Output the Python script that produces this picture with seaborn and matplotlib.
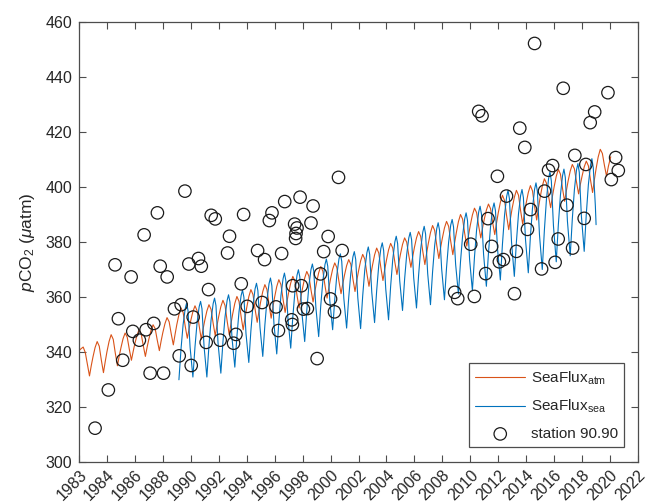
import matplotlib
matplotlib.use("Agg")
import matplotlib.pyplot as plt
import matplotlib.transforms as mtransforms
import pandas as pd
import seaborn as sns

# ---------------- data ----------------
# SeaFlux atm: one row per year, values at year + atm_offsets
atm_years = list(range(1982, 2020))
atm_offsets = [0.0, 0.15, 0.3, 0.45, 0.6, 0.75, 0.88]
atm_values = [
    [340.5, 341.2, 341.8, 339.8, 335.5, 331.3, 335.1],
    [338.2, 341.6, 343.8, 342.1, 337.0, 332.5, 336.6],
    [340.1, 343.8, 346.3, 344.6, 339.5, 335.0, 338.6],
    [341.5, 344.8, 346.9, 345.4, 341.0, 337.0, 340.3],
    [343.1, 346.1, 348.1, 346.6, 342.3, 338.4, 341.9],
    [344.7, 347.8, 349.9, 348.5, 344.3, 340.5, 344.1],
    [347.1, 350.3, 352.5, 351.0, 346.6, 342.6, 346.6],
    [350.0, 353.6, 356.0, 354.4, 349.4, 345.0, 348.5],
    [351.5, 354.7, 356.8, 355.0, 349.5, 344.6, 348.4],
    [351.5, 354.9, 357.2, 355.5, 350.4, 345.9, 349.8],
    [353.0, 356.5, 358.8, 356.9, 351.3, 346.3, 350.5],
    [353.9, 357.7, 360.2, 358.4, 352.9, 348.1, 352.5],
    [356.1, 360.1, 362.7, 360.9, 355.6, 350.8, 354.9],
    [358.3, 362.0, 364.5, 362.7, 357.2, 352.3, 356.5],
    [360.0, 363.8, 366.3, 364.5, 359.2, 354.4, 358.3],
    [361.6, 365.1, 367.5, 365.8, 360.6, 356.0, 360.0],
    [363.3, 366.9, 369.3, 367.6, 362.6, 358.2, 362.1],
    [365.3, 368.8, 371.1, 369.4, 364.2, 359.6, 363.4],
    [366.6, 370.1, 372.4, 370.7, 365.7, 361.2, 364.9],
    [368.0, 371.4, 373.6, 371.9, 366.6, 362.0, 366.1],
    [369.4, 373.1, 375.5, 373.8, 368.5, 363.9, 368.1],
    [371.5, 375.3, 377.8, 376.0, 370.7, 366.0, 370.1],
    [373.4, 377.1, 379.5, 377.8, 372.7, 368.2, 372.2],
    [375.5, 379.1, 381.5, 379.9, 375.1, 370.8, 374.7],
    [378.0, 381.5, 383.8, 382.0, 376.6, 371.8, 376.1],
    [379.6, 383.4, 386.0, 384.2, 378.8, 374.0, 378.1],
    [381.4, 385.1, 387.5, 385.7, 380.2, 375.4, 379.8],
    [383.4, 387.4, 390.0, 388.3, 383.1, 378.5, 382.6],
    [386.1, 389.8, 392.3, 390.7, 385.8, 381.5, 385.2],
    [388.3, 391.6, 393.8, 392.1, 387.1, 382.7, 387.0],
    [390.6, 394.4, 397.0, 395.1, 389.5, 384.5, 388.8],
    [392.4, 396.2, 398.8, 397.0, 391.4, 386.5, 390.7],
    [394.2, 398.0, 400.5, 398.6, 393.0, 388.0, 392.5],
    [396.3, 400.3, 403.0, 401.4, 396.7, 392.5, 396.7],
    [400.1, 403.9, 406.4, 404.7, 399.4, 394.8, 398.8],
    [402.2, 405.8, 408.2, 406.6, 401.8, 397.5, 401.1],
    [404.0, 407.3, 409.4, 407.7, 402.6, 398.0, 402.7],
    [406.6, 410.9, 413.7, 412.2, 407.8, 403.9, 407.5],
]
atm_end_time = [2020.05]
atm_end_value = [411.0]

# SeaFlux sea: one row per year, values at year + sea_offsets
sea_years = list(range(1989, 2019))
sea_offsets = [0.15, 0.3, 0.45, 0.6, 0.7, 0.8, 0.95]
sea_values = [
    [329.9, 341.1, 350.0, 355.8, 357.8, 355.1, 341.7],
    [330.9, 341.9, 350.7, 356.5, 358.4, 355.7, 341.9],
    [330.9, 342.4, 351.6, 357.6, 359.6, 356.9, 343.2],
    [332.3, 343.7, 352.8, 358.8, 360.8, 358.2, 345.0],
    [334.5, 345.7, 354.7, 360.5, 362.5, 359.9, 346.7],
    [336.2, 347.7, 356.9, 363.0, 365.0, 362.3, 349.0],
    [338.4, 349.8, 358.9, 364.9, 366.9, 364.1, 350.3],
    [339.3, 351.1, 360.5, 366.6, 368.7, 366.0, 352.3],
    [341.4, 352.8, 361.9, 367.9, 369.9, 367.3, 354.2],
    [343.8, 355.1, 364.1, 370.0, 372.0, 369.4, 356.2],
    [345.6, 356.9, 365.9, 371.8, 373.8, 371.2, 358.4],
    [348.1, 359.1, 368.0, 373.8, 375.7, 373.0, 359.5],
    [348.7, 359.8, 368.7, 374.6, 376.5, 373.7, 359.7],
    [348.5, 360.4, 369.9, 376.1, 378.2, 375.5, 361.7],
    [350.7, 362.3, 371.6, 377.7, 379.7, 376.9, 362.9],
    [351.7, 363.9, 373.6, 380.0, 382.1, 379.4, 365.9],
    [355.1, 366.5, 375.5, 381.5, 383.5, 380.8, 367.0],
    [356.0, 367.9, 377.4, 383.6, 385.7, 382.9, 368.6],
    [357.2, 369.1, 378.7, 384.9, 387.0, 384.2, 370.2],
    [359.0, 370.7, 380.0, 386.2, 388.2, 385.5, 371.9],
    [361.1, 372.9, 382.3, 388.5, 390.6, 387.8, 373.6],
    [362.3, 374.6, 384.4, 390.9, 393.0, 390.1, 375.5],
    [363.9, 376.0, 385.7, 392.1, 394.2, 391.4, 377.4],
    [366.2, 379.2, 389.7, 396.5, 398.8, 395.7, 380.0],
    [367.5, 380.1, 390.3, 396.9, 399.1, 396.1, 380.9],
    [368.8, 381.9, 392.3, 399.2, 401.5, 398.4, 382.6],
    [370.0, 384.2, 395.6, 403.0, 405.5, 402.2, 385.9],
    [372.8, 386.3, 397.1, 404.1, 406.5, 403.4, 387.6],
    [375.0, 388.4, 399.1, 406.2, 408.5, 405.3, 389.4],
    [376.6, 390.1, 400.9, 407.9, 410.3, 407.0, 393.0],
]
sea_end_time = [2019.0]
sea_end_value = [386.3]

# station 90.90 discrete samples
station_time = [
    1983.15, 1984.10, 1984.58, 1984.82, 1985.13, 1985.73, 1985.85, 1986.32, 1986.66, 1986.80,
    1987.09, 1987.35, 1987.61, 1987.81, 1988.05, 1988.31, 1988.83, 1989.31, 1989.17, 1989.58,
    1989.86, 1990.03, 1990.17, 1990.55, 1990.75, 1991.27, 1991.10, 1991.46, 1991.75, 1992.10,
    1993.78, 1995.81, 1995.62, 1996.72, 1997.82, 1998.75, 2000.57, 1992.77, 1992.63, 1994.78,
    1995.28, 1996.50, 1997.43, 1997.60, 1997.53, 1997.50, 1998.60, 1999.83, 1999.51, 2000.83,
    1993.61, 1994.04, 1995.10, 1996.10, 1997.29, 1997.91, 1999.28, 1998.06, 1998.34, 2000.00,
    2000.28, 1993.23, 1993.06, 1996.27, 1997.22, 1997.27, 1999.04, 2008.88, 2009.10, 2010.29,
    2010.03, 2011.27, 2011.53, 2011.10, 2012.08, 2012.37, 2014.60, 2016.65, 2019.85, 2018.90,
    2018.58, 2013.54, 2013.90, 2011.94, 2017.48, 2020.40, 2020.59, 2020.09, 2018.27, 2015.89,
    2015.60, 2012.59, 2015.31, 2014.31, 2016.91, 2014.09, 2018.15, 2016.29, 2017.32, 2013.30,
    2016.07, 2015.10, 2013.16, 2010.60, 2010.84,
]
station_value = [
    312.3, 326.2, 371.7, 352.1, 337.0, 367.3, 347.5, 344.3, 382.6, 348.1,
    332.3, 350.4, 390.6, 371.2, 332.3, 367.3, 355.7, 357.2, 338.6, 398.5,
    372.0, 335.1, 352.7, 374.0, 371.2, 362.7, 343.5, 389.7, 388.4, 344.3,
    390.0, 390.6, 387.8, 394.7, 396.3, 393.1, 403.5, 382.1, 376.0, 376.9,
    373.6, 375.8, 386.5, 385.1, 383.1, 381.3, 386.9, 382.0, 376.5, 376.9,
    364.8, 356.6, 358.0, 356.4, 364.1, 364.1, 368.4, 355.6, 355.8, 359.3,
    354.6, 346.4, 343.2, 347.8, 351.7, 350.0, 337.6, 361.7, 359.4, 360.2,
    379.2, 388.5, 378.4, 368.5, 372.8, 373.6, 452.2, 435.9, 434.3, 427.3,
    423.4, 421.4, 414.4, 403.9, 411.5, 410.7, 406.0, 402.7, 408.2, 407.8,
    406.1, 396.7, 398.5, 391.8, 393.4, 384.6, 388.6, 381.1, 377.8, 376.6,
    372.6, 370.2, 361.2, 427.5, 425.9,
]

xtick_pos = list(range(1982, 2023, 2))
xtick_labels = ["1983", "1984", "1986", "1988", "1990", "1992", "1994", "1996", "1998",
                "2000", "2002", "2004", "2006", "2008", "2010", "2012", "2014", "2016",
                "2018", "2020", "2022"]
ytick_pos = list(range(300, 461, 20))

# ---------------- build tables ----------------
def series_frame(years, offsets, rows, end_t, end_v):
    t, v = [], []
    for y, vals in zip(years, rows):
        for o, val in zip(offsets, vals):
            t.append(y + o)
            v.append(val)
    t += end_t
    v += end_v
    return pd.DataFrame({"t": t, "v": v})

atm_df = series_frame(atm_years, atm_offsets, atm_values, atm_end_time, atm_end_value)
sea_df = series_frame(sea_years, sea_offsets, sea_values, sea_end_time, sea_end_value)
st_df = pd.DataFrame({"t": station_time, "v": station_value})

# ---------------- style ----------------
sns.set_theme(style="white")
plt.rcParams["font.family"] = ["Liberation Sans", "DejaVu Sans"]
plt.rcParams["mathtext.fontset"] = "custom"
plt.rcParams["mathtext.rm"] = "Liberation Sans"
plt.rcParams["mathtext.it"] = "Liberation Sans:italic"
plt.rcParams["mathtext.bf"] = "Liberation Sans:bold"

ORANGE = "#D95319"
BLUE = "#0072BD"
AXC = "#4d4d4d"

fig = plt.figure(figsize=(6.49, 5.04), dpi=100)
ax = fig.add_axes([79 / 649, 1 - 462 / 504, (638 - 79) / 649, (462 - 22) / 504])

sns.lineplot(data=atm_df, x="t", y="v", ax=ax, color=ORANGE, linewidth=0.8,
             estimator=None, sort=False, label=r"SeaFlux$_{\mathrm{atm}}$")
sns.lineplot(data=sea_df, x="t", y="v", ax=ax, color=BLUE, linewidth=0.8,
             estimator=None, sort=False, label=r"SeaFlux$_{\mathrm{sea}}$")
sns.scatterplot(data=st_df, x="t", y="v", ax=ax, marker="o", s=80,
                facecolors="none", edgecolors="#1a1a1a", linewidths=0.9,
                label="station 90.90", zorder=3)

ax.set_xlim(1982, 2022)
ax.set_ylim(300, 460)
ax.set_xticks(xtick_pos)
ax.set_xticklabels(xtick_labels, rotation=45, ha="right", va="top",
                   rotation_mode="anchor")
shift = mtransforms.ScaledTranslation(6 / 100, -3 / 100, fig.dpi_scale_trans)
for lab in ax.get_xticklabels():
    lab.set_transform(lab.get_transform() + shift)
ax.set_yticks(ytick_pos)
ax.set_xlabel("")
ax.set_ylabel(r"$p$CO$_2$ ($\mu$atm)", fontsize=12.5, labelpad=6)

for sp in ax.spines.values():
    sp.set_visible(True)
    sp.set_color(AXC)
    sp.set_linewidth(0.9)
ax.tick_params(axis="both", which="major", direction="in", length=5, width=0.8,
               color=AXC, labelsize=11.5, labelcolor="#262626",
               top=True, right=True, bottom=True, left=True)
ax.tick_params(axis="x", pad=4)
ax.tick_params(axis="y", pad=5)

leg = ax.legend(loc="lower right", bbox_to_anchor=(0.975, 0.034), borderaxespad=0,
                fontsize=11, frameon=True, fancybox=False, handlelength=3.3,
                labelspacing=0.75, handletextpad=0.35, borderpad=0.4)
leg.get_frame().set_edgecolor(AXC)
leg.get_frame().set_linewidth(0.9)
leg.get_frame().set_alpha(1)

fig.savefig("out.png", dpi=100)
